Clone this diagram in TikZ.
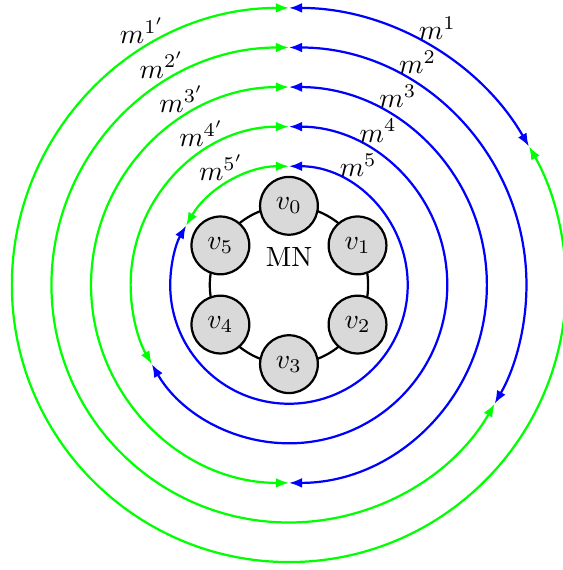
\documentclass[tikz,border=0pt]{standalone}
\usetikzlibrary{arrows.meta}
\begin{document}
\begin{tikzpicture}[
  vert/.style={circle,draw,thick,fill=gray!30,minimum size=0.73cm,inner sep=0pt},
  ring/.style={thick},
  fwd/.style={blue,thick,{Latex[length=4.7pt]}-{Latex[length=4.7pt]}},
  bwd/.style={green,thick,{Latex[length=4.7pt]}-{Latex[length=4.7pt]}},
]
\useasboundingbox (-3.65,-3.6) rectangle (3.46,3.6);
\coordinate (c) at (0,0);
\draw[ring] (c) circle (1);
\foreach \i/\a in {0/90,1/30,2/-30,3/-90,4/210,5/150}
  \node[vert] (v\i) at (\a:1) {$v_{\i}$};
\node (mn) at (0,0.35) {MN};
\foreach \k in {1,...,5} {
  \pgfmathsetmacro\r{4-0.5*\k}
  \pgfmathsetmacro\eb{90-60*\k}
  \pgfmathsetmacro\eg{450-60*\k}
  \coordinate (s\k) at (90:\r);
  \draw[fwd] (s\k) arc[start angle=90,end angle=\eb,radius=\r];
  \draw[bwd] (s\k) arc[start angle=90,end angle=\eg,radius=\r];
  \node (b\k) at (60:{\r+0.25}) {$m^{\k}$};
  \node (g\k) at (120:{\r+0.21}) {$m^{\k'}$};
}
\end{tikzpicture}
\end{document}
